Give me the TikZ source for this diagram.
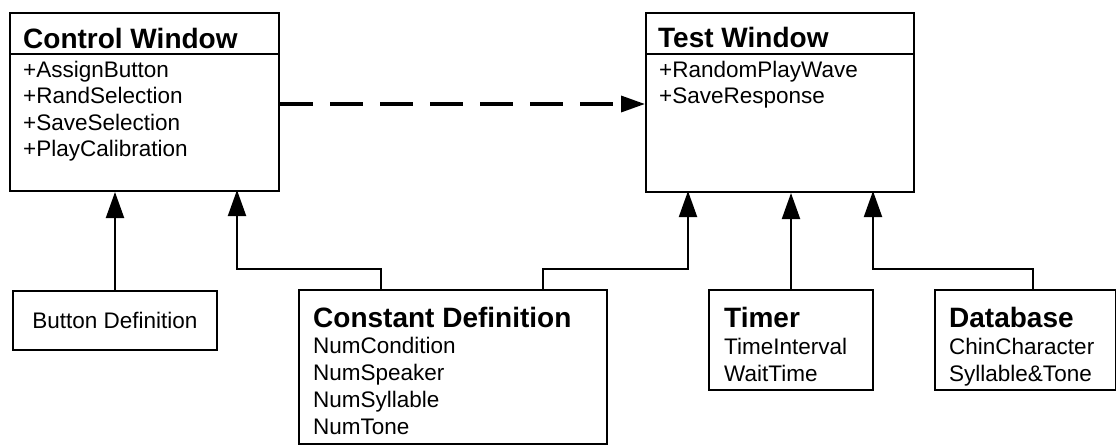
\documentclass[tikz,border=0pt]{standalone}
\usepackage{fontspec}
\setmainfont{Liberation Sans}
\usetikzlibrary{arrows.meta}
\begin{document}
\begin{tikzpicture}[x=1pt,y=-1pt,
  box/.style={draw=black,line width=2pt,rectangle,inner sep=0pt,anchor=north west},
  ttl/.style={anchor=base west,inner sep=0pt,font=\fontsize{28}{30}\selectfont\bfseries},
  itm/.style={anchor=base west,inner sep=0pt,font=\fontsize{22.5}{26}\selectfont},
  conn/.style={line width=2pt,-{Triangle[length=26pt,width=18pt]}},
  dep/.style={line width=3.4pt,dash pattern=on 33pt off 17pt,-{Triangle[length=24pt,width=16pt]}}]
\useasboundingbox[fill=white] (0,0) rectangle (1116,445);
% Control Window
\node[box,minimum width=269pt,minimum height=178pt] (cw) at (9,12) {};
\draw[line width=1.6pt] (cw.west |- 0,54) -- (cw.east |- 0,54);
\node[ttl] (cwt) at (23,48) {Control Window};
\node[itm] (cw1) at (23,77) {+AssignButton};
\node[itm] (cw2) at (23,103) {+RandSelection};
\node[itm] (cw3) at (23,130) {+SaveSelection};
\node[itm] (cw4) at (23,156) {+PlayCalibration};
% Test Window
\node[box,minimum width=268pt,minimum height=179pt] (tw) at (645,12) {};
\draw[line width=1.6pt] (tw.west |- 0,54) -- (tw.east |- 0,54);
\node[ttl] (twt) at (658,47) {Test Window};
\node[itm] (tw1) at (659,77) {+RandomPlayWave};
\node[itm] (tw2) at (659,103) {+SaveResponse};
% Button Definition
\node[box,minimum width=204pt,minimum height=59pt] (bd) at (12,290) {};
\node[anchor=center,inner sep=0pt,font=\fontsize{22.5}{26}\selectfont] (bdt) at (bd.center) {Button Definition};
% Constant Definition
\node[box,minimum width=308pt,minimum height=154pt] (cd) at (298,289) {};
\node[ttl] (cdt) at (313,327) {Constant Definition};
\node[itm] (cd1) at (313,353) {NumCondition};
\node[itm] (cd2) at (313,380) {NumSpeaker};
\node[itm] (cd3) at (313,407) {NumSyllable};
\node[itm] (cd4) at (313,434) {NumTone};
% Timer
\node[box,minimum width=164pt,minimum height=100pt] (tm) at (708,289) {};
\node[ttl] (tmt) at (724,327) {Timer};
\node[itm] (tm1) at (724,354) {TimeInterval};
\node[itm] (tm2) at (724,381) {WaitTime};
% Database
\node[box,minimum width=181pt,minimum height=100pt] (db) at (934,289) {};
\node[ttl] (dbt) at (949,327) {Database};
\node[itm] (db1) at (949,354) {ChinCharacter};
\node[itm] (db2) at (949,381) {Syllable\&Tone};
% connectors
\coordinate (cdL) at ([xshift=83pt]cd.north west);
\coordinate (cdR) at ([xshift=245pt]cd.north west);
\coordinate (dbT) at ([xshift=99pt]db.north west);
\draw[conn] (bd.north) -- (bd.north |- cw.south);
\draw[conn] (cdL) -- (381,269) -- (237,269) -- (237,190);
\draw[conn] (cdR) -- (543,269) -- (688,269) -- (688,191);
\draw[conn] (tm.north) -- (tm.north |- tw.south);
\draw[conn] (dbT) -- (1033,269) -- (873,269) -- (873,191);
\draw[dep] ([yshift=-2pt]cw.east) -- ([yshift=-1.5pt]tw.west);
\end{tikzpicture}
\end{document}
